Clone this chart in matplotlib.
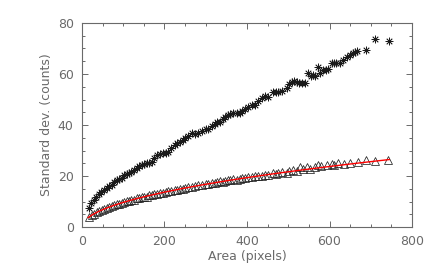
import matplotlib
matplotlib.use("Agg")
import matplotlib.pyplot as plt
from matplotlib.ticker import MultipleLocator

# upper series (asterisks)
star_x = [18, 23, 29, 35, 41, 47, 54, 60, 66, 72, 78, 84, 90, 96, 102, 108, 114, 120,
          126, 133, 139, 145, 151, 157, 163, 169, 175, 181, 189, 197, 203, 209, 217,
          225, 231, 238, 244, 250, 258, 266, 274, 282, 292, 300, 306, 314, 322, 328,
          335, 341, 347, 353, 359, 367, 375, 383, 389, 395, 403, 411, 419, 426, 436,
          444, 452, 462, 470, 476, 486, 496, 502, 508, 514, 520, 527, 534, 540, 549,
          554, 560, 565, 573, 577, 585, 591, 597, 605, 610, 616, 625, 633, 642, 650,
          656, 662, 667, 688, 710, 743]
star_y = [7.5, 9.5, 10.5, 11.9, 12.8, 13.8, 14.5, 15.2, 16.0, 16.5, 17.6, 18.4, 18.7,
          19.1, 20.3, 21.0, 21.2, 21.7, 22.5, 23.0, 23.8, 24.3, 24.6, 25.0, 25.3, 25.6,
          27.0, 28.2, 28.5, 28.9, 29.2, 29.5, 31.0, 32.2, 32.8, 33.5, 34.2, 35.0, 35.8,
          36.7, 36.5, 36.7, 37.8, 38.3, 38.5, 39.5, 40.3, 41.0, 41.3, 42.3, 43.3, 43.8,
          44.3, 44.6, 44.8, 44.6, 45.5, 46.2, 47.0, 47.8, 47.8, 49.5, 50.5, 51.2, 51.1,
          52.8, 52.8, 52.8, 53.5, 54.6, 56.0, 57.0, 57.3, 56.8, 56.3, 56.3, 56.3, 60.3,
          59.2, 59.5, 59.2, 62.9, 60.3, 61.6, 61.7, 61.8, 64.4, 64.2, 64.2, 64.4, 65.5,
          66.7, 67.5, 68.1, 68.7, 69.1, 69.3, 73.7, 72.9]

# lower series (triangles)
tri_x = [18, 24, 30, 36, 42, 48, 54, 60, 66, 72, 78, 84, 90, 96, 102, 108, 114, 120,
         126, 133, 139, 145, 151, 157, 163, 169, 175, 181, 189, 197, 203, 209, 217, 225,
         231, 238, 244, 250, 258, 266, 274, 282, 292, 300, 306, 314, 322, 328, 335, 341,
         347, 353, 359, 367, 375, 383, 389, 395, 403, 411, 419, 426, 436, 444, 452, 462,
         470, 476, 486, 496, 502, 512, 520, 528, 536, 545, 552, 565, 573, 580, 593, 605,
         612, 621, 635, 650, 670, 688, 710, 742]
tri_y = [4.1, 4.8, 5.3, 5.9, 6.2, 6.8, 7.1, 7.6, 7.9, 8.3, 8.5, 9.0, 9.1, 9.6, 9.8, 10.1,
         10.2, 10.7, 10.8, 11.3, 11.4, 11.8, 11.9, 12.0, 12.5, 12.4, 12.9, 13.0, 13.4,
         13.5, 13.9, 14.0, 14.2, 14.6, 14.7, 15.1, 15.1, 15.5, 15.6, 15.9, 16.0, 16.4,
         16.5, 16.9, 16.8, 17.2, 17.4, 17.5, 17.9, 17.7, 18.2, 18.4, 18.3, 18.8, 18.6,
         19.0, 19.3, 19.1, 19.6, 19.5, 20.0, 20.2, 20.0, 20.6, 20.5, 21.1, 20.9, 21.3,
         21.6, 21.3, 21.9, 22.4, 22.0, 23.6, 22.6, 23.4, 22.9, 23.6, 24.3, 23.8, 24.3,
         24.6, 24.3, 25.0, 24.8, 25.0, 25.6, 26.3, 25.9, 26.3]

# fitted curve (red)
fit_x = [15, 25, 40, 60, 80, 100, 130, 160, 200, 250, 300, 350, 400, 450, 500, 550,
         600, 650, 700, 745]
fit_y = [3.76, 4.85, 6.13, 7.51, 8.68, 9.70, 11.06, 12.27, 13.72, 15.34, 16.80, 18.15,
         19.40, 20.58, 21.69, 22.75, 23.76, 24.73, 25.66, 26.48]

grey = "#6a6a6a"
plt.rcParams["font.family"] = "DejaVu Sans"

fig = plt.figure(figsize=(4.36, 2.73), dpi=100)
ax = fig.add_axes([0.188, 0.168, 0.757, 0.748])

ax.plot(star_x, star_y, linestyle="none", marker=(8, 2, 0), markersize=5.5,
        markeredgecolor="#1a1a1a", markeredgewidth=0.55, color="black")
ax.plot(tri_x, tri_y, linestyle="none", marker="^", markersize=5.5,
        markerfacecolor="none", markeredgecolor="#222222", markeredgewidth=0.55)
ax.plot(fit_x, fit_y, color="red", linewidth=1.0)

ax.set_xlim(0, 800)
ax.set_ylim(0, 80)
ax.xaxis.set_major_locator(MultipleLocator(200))
ax.xaxis.set_minor_locator(MultipleLocator(50))
ax.yaxis.set_major_locator(MultipleLocator(20))
ax.yaxis.set_minor_locator(MultipleLocator(5))

for s in ax.spines.values():
    s.set_color(grey)
    s.set_linewidth(0.8)
ax.tick_params(which="both", direction="in", top=True, right=True, color=grey,
               labelcolor=grey, labelsize=9, width=0.7)
ax.tick_params(which="major", length=4, pad=6)
ax.tick_params(which="minor", length=2.5)

ax.set_xlabel("Area (pixels)", color=grey, fontsize=9, labelpad=1)
ax.set_ylabel("Standard dev. (counts)", color=grey, fontsize=9, labelpad=3)

fig.savefig("out.png", dpi=100)
